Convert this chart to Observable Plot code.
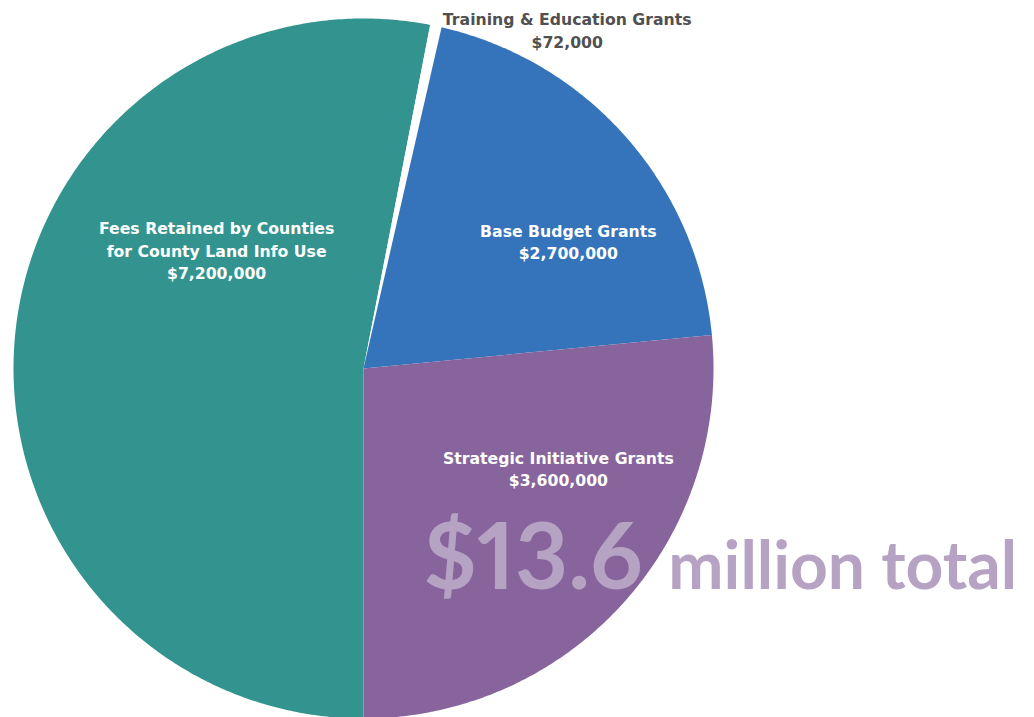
<!DOCTYPE html>
<html>
<head>
<meta charset="utf-8">
<script src="https://cdn.jsdelivr.net/npm/d3@7"></script>
<script src="https://cdn.jsdelivr.net/npm/@observablehq/plot@0.6"></script>
<style>
  html, body { margin: 0; padding: 0; background: #ffffff; }
  #chart svg { display: block; }
</style>
</head>
<body>
<div id="chart"></div>
<script>
// Data
const categories = [
  "Fees Retained by Counties for County Land Info Use",
  "Training & Education Grants",
  "Base Budget Grants",
  "Strategic Initiative Grants"
];
const labelLines = [
  "Fees Retained by Counties\nfor County Land Info Use\n$7,200,000",
  "Training & Education Grants\n$72,000",
  "Base Budget Grants\n$2,700,000",
  "Strategic Initiative Grants\n$3,600,000"
];
const values = [7200000, 72000, 2700000, 3600000];
const colors = ["#33948f", "#ffffff", "#3574ba", "#87649c"];
const totalLabel = ["$13.6", "million total"];

// Layout (label placement in polar terms relative to the pie centre, radius in pie-radius units)
const labelLayout = [
  {angle: 309, r: 0.54, fill: "#ffffff"},
  {angle: 31,  r: 1.13, fill: "#505050"},
  {angle: 58,  r: 0.69, fill: "#ffffff"},
  {angle: 117, r: 0.625, fill: "#ffffff"}
];

const pie = d3.pie().sort(null).startAngle(Math.PI).endAngle(3 * Math.PI);
const arcs = pie(values);

// polygon points for each slice (angle clockwise from 12 o'clock)
const points = [];
arcs.forEach((a, i) => {
  const name = categories[i];
  points.push({name, x: 0, y: 0});
  const n = Math.max(2, Math.ceil((a.endAngle - a.startAngle) / (Math.PI / 360)));
  for (let k = 0; k <= n; k++) {
    const t = a.startAngle + (a.endAngle - a.startAngle) * k / n;
    points.push({name, x: Math.sin(t), y: Math.cos(t)});
  }
  points.push({name, x: 0, y: 0});
});

const labels = arcs.map((a, i) => {
  const L = labelLayout[i];
  const t = L.angle * Math.PI / 180;
  return {text: labelLines[i], x: L.r * Math.sin(t), y: L.r * Math.cos(t), fill: L.fill};
});

const labelFont = "'Century Gothic', 'DejaVu Sans', sans-serif";
const bigFont = "'Century Gothic', Lato, sans-serif";

const chart = Plot.plot({
  width: 1034,
  height: 717,
  margin: 0,
  x: {domain: [-1, 1], range: [13, 713], axis: null},
  y: {domain: [-1, 1], range: [718, 18], axis: null},
  color: {domain: categories, range: colors},
  style: {background: "#ffffff", fontFamily: labelFont},
  marks: [
    Plot.line(points, {x: "x", y: "y", z: "name", fill: "name", stroke: null, curve: "linear"}),
    Plot.text(labels, {
      x: "x", y: "y", text: "text", fill: "fill",
      fontSize: 15.7, fontWeight: "bold", lineHeight: 1.42, textAnchor: "middle"
    }),
    Plot.text([totalLabel[0]], {
      x: [0.171], y: [-0.629], text: d => d, fill: "#b6a3c3",
      fontFamily: bigFont, fontVariant: "proportional-nums",
      fontSize: 92, fontWeight: "bold", textAnchor: "start", lineAnchor: "bottom"
    }),
    Plot.text([totalLabel[1]], {
      x: [0.871], y: [-0.629], text: d => d, fill: "#b6a3c3",
      fontFamily: bigFont,
      fontSize: 66, fontWeight: "bold", textAnchor: "start", lineAnchor: "bottom"
    })
  ]
});
document.getElementById("chart").appendChild(chart);
</script>
</body>
</html>
